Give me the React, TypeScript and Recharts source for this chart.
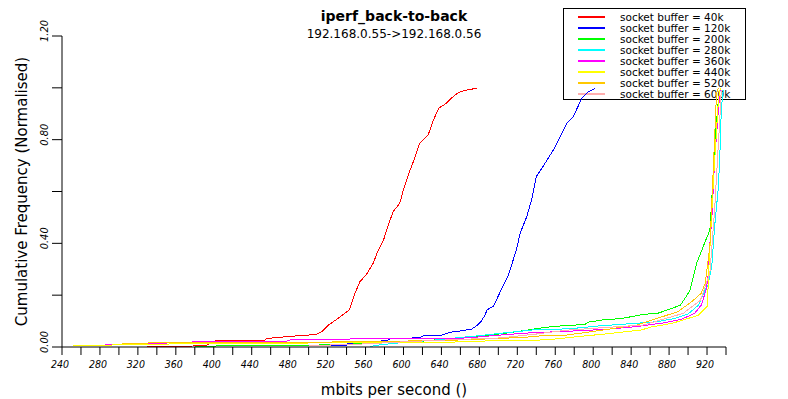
import React from "react";
import { LineChart, Line, XAxis, YAxis } from "recharts";

// cumulative frequency curves, [mbits per second, normalised frequency]
const buf40k: [number, number][] = [
  [330, 0], [392, 0.005], [398, 0.02], [406, 0.027], [454, 0.027], [456, 0.033],
  [477, 0.04], [499, 0.046], [508, 0.048], [514, 0.059], [521, 0.085], [531, 0.11],
  [543, 0.143], [548, 0.2], [554, 0.252], [561, 0.28], [568, 0.323], [573, 0.37],
  [579, 0.413], [584, 0.47], [589, 0.522], [596, 0.554], [601, 0.62], [607, 0.683],
  [612, 0.73], [617, 0.786], [626, 0.818], [631, 0.87], [637, 0.921], [645, 0.94],
  [654, 0.972], [660, 0.985], [667, 0.992], [677, 0.998],
];
const buf120k: [number, number][] = [
  [420, 0.004], [540, 0.006], [541, 0.014], [570, 0.02], [584, 0.027], [586, 0.031],
  [617, 0.036], [621, 0.044], [640, 0.046], [649, 0.057], [660, 0.062], [672, 0.069],
  [678, 0.085], [682, 0.1], [686, 0.123], [688, 0.143], [695, 0.158], [702, 0.213],
  [710, 0.271], [719, 0.374], [723, 0.439], [730, 0.503], [735, 0.567], [740, 0.657],
  [747, 0.696], [758, 0.76], [765, 0.81], [772, 0.863], [779, 0.889], [788, 0.96],
  [795, 0.985], [802, 0.998],
];
const buf200k: [number, number][] = [
  [380, 0.003], [460, 0.006], [520, 0.008], [540, 0.01], [557, 0.014], [603, 0.02],
  [621, 0.023], [644, 0.031], [667, 0.039], [691, 0.046], [709, 0.054], [725, 0.062],
  [742, 0.072], [760, 0.08], [791, 0.087], [795, 0.096], [809, 0.104], [830, 0.11],
  [853, 0.126], [868, 0.13], [883, 0.149], [892, 0.162], [899, 0.2], [902, 0.22],
  [909, 0.323], [918, 0.406], [923, 0.451], [925, 0.567], [928, 0.786], [932, 0.953],
  [934, 0.998],
];
const buf280k: [number, number][] = [
  [565, 0.002], [575, 0.008], [590, 0.014], [607, 0.02], [628, 0.025], [649, 0.033],
  [681, 0.044], [702, 0.053], [737, 0.066], [760, 0.068], [780, 0.072], [805, 0.081],
  [844, 0.091], [868, 0.098], [886, 0.11], [900, 0.127], [911, 0.162], [918, 0.22],
  [921, 0.24], [925, 0.31], [928, 0.464], [932, 0.618], [934, 0.786], [935, 0.914],
  [937, 0.99],
];
const buf360k: [number, number][] = [
  [270, 0.006], [343, 0.014], [371, 0.019], [477, 0.023], [480, 0.027], [547, 0.031],
  [646, 0.031], [670, 0.036], [702, 0.046], [726, 0.053], [761, 0.059], [787, 0.063],
  [816, 0.069], [844, 0.078], [876, 0.094], [893, 0.107], [907, 0.13], [914, 0.162],
  [919, 0.22], [921, 0.27], [923, 0.4], [925, 0.49], [928, 0.722], [932, 0.914],
  [934, 1.0],
];
const buf440k: [number, number][] = [
  [252, 0.006], [300, 0.008], [360, 0.012], [420, 0.014], [643, 0.018], [660, 0.02],
  [684, 0.023], [744, 0.027], [760, 0.031], [784, 0.04], [820, 0.053], [851, 0.066],
  [862, 0.078], [883, 0.091], [900, 0.11], [911, 0.123], [920, 0.156], [921, 0.22],
  [922, 0.31], [927, 0.657], [932, 0.953], [934, 1.0],
];
const buf520k: [number, number][] = [
  [303, 0.014], [343, 0.016], [410, 0.018], [520, 0.019], [643, 0.025], [702, 0.033],
  [733, 0.039], [747, 0.044], [772, 0.046], [800, 0.06], [846, 0.085], [862, 0.104],
  [889, 0.136], [904, 0.175], [914, 0.208], [918, 0.245], [923, 0.387], [927, 0.72],
  [930, 0.98], [932, 1.0],
];
const buf600k: [number, number][] = [
  [500, 0.005], [560, 0.012], [600, 0.02], [650, 0.028], [702, 0.035], [740, 0.05],
  [772, 0.065], [853, 0.085], [895, 0.13], [913, 0.18], [923, 0.285], [928, 0.529],
  [934, 0.914], [935, 0.99],
];

const seriesNames = [
  "socket buffer = 40k",
  "socket buffer = 120k",
  "socket buffer = 200k",
  "socket buffer = 280k",
  "socket buffer = 360k",
  "socket buffer = 440k",
  "socket buffer = 520k",
  "socket buffer = 600k",
];
const seriesColors = [
  "#ff0000", "#0000ff", "#00ff00", "#00ffff",
  "#ff00ff", "#ffff00", "#ffc800", "#ffafaf",
];
const seriesData = [buf40k, buf120k, buf200k, buf280k, buf360k, buf440k, buf520k, buf600k];

const xTicks = [
  240, 260, 280, 300, 320, 340, 360, 380, 400, 420, 440, 460, 480, 500, 520, 540,
  560, 580, 600, 620, 640, 660, 680, 700, 720, 740, 760, 780, 800, 820, 840, 860,
  880, 900, 920, 940,
];
const yTicks = [0, 0.2, 0.4, 0.6, 0.8, 1.0, 1.2];

const FONT = "'DejaVu Sans', sans-serif";
const TICK_FONT = "'DejaVu Sans Condensed', 'DejaVu Sans', sans-serif";

const XTick = (props: any) => {
  const { x, y, payload } = props;
  if (payload.value % 40 !== 0) return <g />;
  return (
    <text x={x - 2} y={y + 11} textAnchor="middle" fontSize={10.5} fontStyle="italic"
      fontFamily={TICK_FONT} fill="#000">
      {payload.value}
    </text>
  );
};

const YTick = (props: any) => {
  const { x, y, payload } = props;
  if (Math.round(payload.value * 100) % 40 !== 0) return <g />;
  return (
    <text transform={`translate(${x - 2},${y - 5}) rotate(-90)`} textAnchor="middle"
      fontSize={11} fontStyle="italic" fontFamily={TICK_FONT} fill="#000">
      {payload.value.toFixed(2)}
    </text>
  );
};

const XLabel = (props: any) => {
  const { viewBox } = props;
  return (
    <text x={viewBox.x + viewBox.width / 2} y={viewBox.y + 48} textAnchor="middle"
      fontSize={15} fontFamily={FONT} fill="#000">
      mbits per second ()
    </text>
  );
};

const YLabel = (props: any) => {
  const { viewBox } = props;
  const cy = viewBox.y + viewBox.height / 2;
  return (
    <text transform={`translate(27,${cy}) rotate(-90)`} textAnchor="middle"
      fontSize={15} fontFamily={FONT} fill="#000">
      Cumulative Frequency (Normalised)
    </text>
  );
};

function LegendBox() {
  return (
    <svg width={183} height={92} style={{ position: "absolute", left: 563, top: 8 }}>
      <rect x={0.5} y={0.5} width={182} height={91} fill="#fff" stroke="#000" />
      {seriesNames.map((n, i) => {
        const cy = Math.round(8 + i * 10.95);
        return (
          <g key={n}>
            <rect x={15} y={cy} width={27} height={2} fill={seriesColors[i]} shapeRendering="crispEdges" />
            <text x={57} y={cy + 5} fontSize={10.5} fontFamily={FONT} fill="#000">{n}</text>
          </g>
        );
      })}
    </svg>
  );
}

export default function App() {
  return (
    <div style={{ position: "absolute", left: 0, top: 0, width: 788, height: 399, background: "#fff" }}>
      <LegendBox />
      <div style={{ position: "absolute", left: 0, top: 0 }}>
        <LineChart width={788} height={399} margin={{ top: 36, right: 62, bottom: 51, left: 61 }}>
          <XAxis type="number" dataKey="x" domain={[240, 940]} ticks={xTicks} allowDataOverflow
            interval={0} height={1} tickSize={8} tickMargin={2} tick={<XTick />}
            stroke="#000" label={<XLabel />} />
          <YAxis type="number" domain={[0, 1.2]} ticks={yTicks} allowDataOverflow width={1}
            interval={0} tickSize={10} tickMargin={2} tick={<YTick />} stroke="#000"
            label={<YLabel />} />
          {seriesData.map((pts, i) => (
            <Line key={seriesNames[i]} data={pts.map(([x, y]) => ({ x, y }))} dataKey="y"
              type="linear" stroke={seriesColors[i]} strokeWidth={1} dot={false}
              shapeRendering="crispEdges" isAnimationActive={false} name={seriesNames[i]} />
          ))}
        </LineChart>
      </div>
      <div style={{ position: "absolute", left: 0, width: 788, top: 7, textAlign: "center",
        fontFamily: FONT, fontWeight: "bold", fontSize: 14, lineHeight: "18px" }}>
        iperf_back-to-back
      </div>
      <div style={{ position: "absolute", left: 0, width: 788, top: 27, textAlign: "center",
        fontFamily: FONT, fontSize: 12, lineHeight: "15px" }}>
        192.168.0.55-&gt;192.168.0.56
      </div>
    </div>
  );
}
